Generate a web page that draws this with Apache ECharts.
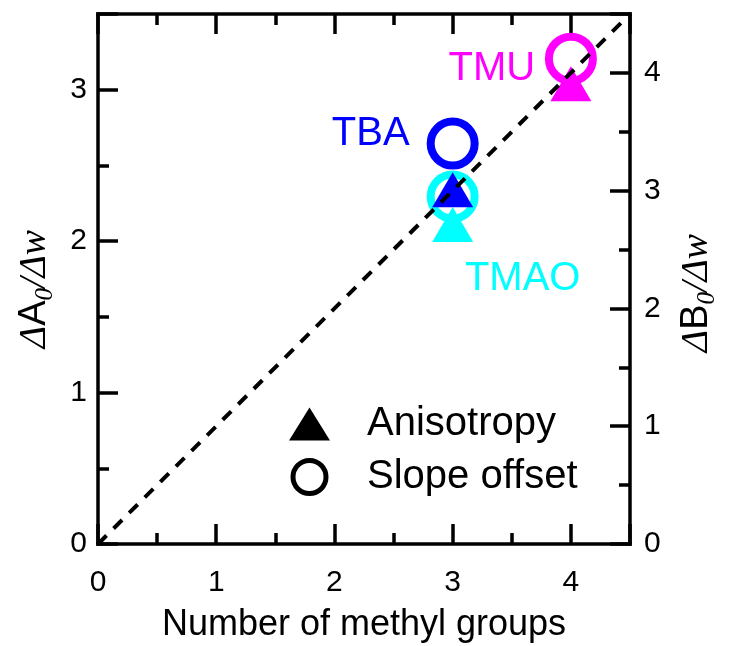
<!DOCTYPE html>
<html><head><meta charset="utf-8">
<script src="https://cdn.jsdelivr.net/npm/echarts@6/dist/echarts.min.js"></script>
<style>html,body{margin:0;padding:0;background:#fff}#c{width:743px;height:646px}</style>
</head><body><div id="c"></div>
<script>
// ---- data ----
const compounds = ['TMAO', 'TBA', 'TMU'];
const methylGroups = [3, 3, 4];
const anisotropy = [2.11, 2.34, 3.04];    // ΔA0/Δw (left axis)
const slopeOffset = [2.95, 3.40, 4.12];   // ΔB0/Δw (right axis)
const refLineX = [0, 4.5];
const refLineY = [0, 4.5];
const xTickLabels = [0, 1, 2, 3, 4];
const yLeftTickLabels = [0, 1, 2, 3];
const yRightTickLabels = [0, 1, 2, 3, 4];
const seriesNames = ['Anisotropy', 'Slope offset'];
const xTitle = 'Number of methyl groups';

// ---- styles ----
const colors = { TMAO: '#00ffff', TBA: '#0000ff', TMU: '#ff00ff' };
const labelStyle = {
  TMAO: { on: 'tri', offset: [70, 54] },
  TBA: { on: 'circ', offset: [-82, -10] },
  TMU: { on: 'circ', offset: [-79, 10] }
};
const SANS = 'Liberation Sans', SERIF = 'Liberation Serif';
const AX = 3.5;

function axisBase(pos, min, max, interval, major, labels, margin) {
  return {
    type: 'value', position: pos, min: min, max: max, interval: interval,
    axisLine: { show: major, onZero: false, lineStyle: { color: '#000', width: AX, cap: 'square' } },
    axisTick: { show: true, inside: true, length: major ? 20 : 11, lineStyle: { color: '#000', width: AX } },
    splitLine: { show: false },
    minorTick: { show: false },
    axisLabel: labels ? {
      show: true, fontSize: 30, fontFamily: SANS, color: '#000', margin: margin,
      formatter: v => labels.includes(v) ? String(v) : ''
    } : { show: false },
    nameMoveOverlap: false
  };
}

const rich = {
  d: { fontFamily: SERIF, fontStyle: 'italic', fontSize: 38, lineHeight: 46, color: '#000' },
  A: { fontFamily: SANS, fontSize: 38, lineHeight: 46, color: '#000' },
  s: { fontFamily: SERIF, fontStyle: 'italic', fontSize: 25, lineHeight: 25, verticalAlign: 'bottom', color: '#000' },
  w: { fontFamily: SERIF, fontStyle: 'italic', fontSize: 38, lineHeight: 46, color: '#000' }
};

const xMajB = axisBase('bottom', 0, 4.5, 1, true, xTickLabels, 24);
Object.assign(xMajB, { name: xTitle, nameLocation: 'middle', nameGap: 63,
  nameTextStyle: { fontSize: 36, fontFamily: SANS, color: '#000' } });
const yMajL = axisBase('left', 0, 3.5, 1, true, yLeftTickLabels, 11);
Object.assign(yMajL, { name: '{d|Δ}{A|A}{s|0}{d|/Δ}{w|w}', nameLocation: 'middle', nameRotate: 90, nameGap: 40,
  nameTextStyle: { rich: rich, padding: [0, 20, 0, 0] } });
const yMajR = axisBase('right', 0, 4.5, 1, true, yRightTickLabels, 14);
Object.assign(yMajR, { name: '{d|Δ}{A|B}{s|0}{d|/Δ}{w|w}', nameLocation: 'middle', nameRotate: 90, nameGap: 44,
  nameTextStyle: { rich: rich, padding: [0, 28, 0, 0] } });

function mkData(vals, kind) {
  return compounds.map((c, i) => {
    const item = { value: [methylGroups[i], vals[i]], name: c };
    item.itemStyle = kind === 'tri'
      ? { color: colors[c], opacity: 1 }
      : { color: 'rgba(0,0,0,0)', borderColor: colors[c], borderWidth: 8, opacity: 1 };
    if (labelStyle[c].on === kind) {
      item.label = { show: true, position: 'inside', offset: labelStyle[c].offset, formatter: c,
        color: colors[c], fontSize: 40, fontFamily: SANS, opacity: 1 };
    }
    return item;
  });
}

const chart = echarts.init(document.getElementById('c'), null, { renderer: 'canvas' });
chart.setOption({
  animation: false,
  backgroundColor: '#fff',
  grid: { left: 98, top: 14, width: 532, height: 530, outerBoundsMode: 'none', containLabel: false },
  legend: {
    show: true, orient: 'vertical', left: 289, top: 404, padding: 0, itemGap: 13,
    itemWidth: 41, itemHeight: 33, selectedMode: false,
    textStyle: { fontSize: 40, fontFamily: SANS, color: '#000', lineHeight: 33, padding: [0, 0, 0, 32] },
    data: [
      { name: seriesNames[0], icon: 'triangle', symbolKeepAspect: false, itemStyle: { color: '#000', opacity: 1 } },
      { name: seriesNames[1], icon: 'circle', itemStyle: { color: 'rgba(0,0,0,0)', borderColor: '#000', borderWidth: 5, opacity: 1 } }
    ]
  },
  xAxis: [
    xMajB,
    axisBase('bottom', 0, 4.5, 0.5, false, null),
    axisBase('top', 0, 4.5, 1, true, null),
    axisBase('top', 0, 4.5, 0.5, false, null)
  ],
  yAxis: [
    yMajL,
    axisBase('left', 0, 3.5, 0.5, false, null),
    yMajR,
    axisBase('right', 0, 4.5, 0.5, false, null)
  ],
  series: [
    { name: seriesNames[1], type: 'scatter', xAxisIndex: 0, yAxisIndex: 2, z: 2,
      symbol: 'circle', symbolSize: 44, itemStyle: { color: 'rgba(0,0,0,0)', borderColor: '#000', borderWidth: 8, opacity: 1 },
      emphasis: { disabled: true }, data: mkData(slopeOffset, 'circ') },
    { name: seriesNames[0], type: 'scatter', xAxisIndex: 0, yAxisIndex: 0, z: 3,
      symbol: 'triangle', symbolSize: [41, 35], itemStyle: { color: '#000', opacity: 1 },
      emphasis: { disabled: true }, data: mkData(anisotropy, 'tri') },
    { name: 'y = x', type: 'line', xAxisIndex: 0, yAxisIndex: 2, z: 5, silent: true,
      symbol: 'none', showSymbol: false,
      lineStyle: { color: '#000', width: 4, type: [12, 10] },
      data: refLineX.map((x, i) => [x, refLineY[i]]) }
  ]
});
</script></body></html>
